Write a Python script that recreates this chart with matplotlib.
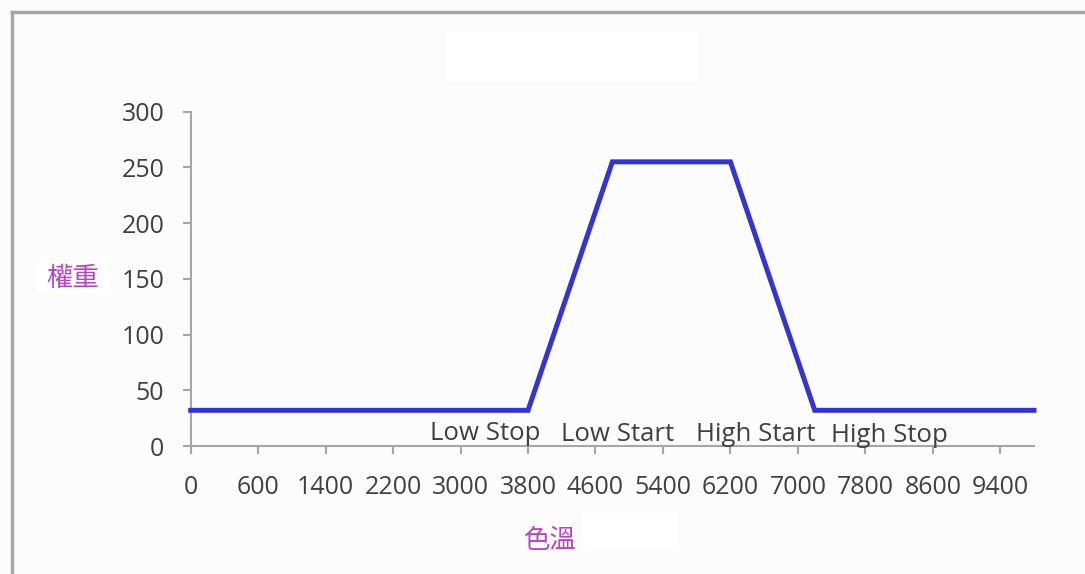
import numpy as np
import matplotlib
matplotlib.use("Agg")
import matplotlib.pyplot as plt
from matplotlib.patches import Rectangle

# ---- data ----
tick_labels = ["0", "600", "1400", "2200", "3000", "3800", "4600", "5400",
               "6200", "7000", "7800", "8600", "9400"]
tick_values = [0, 600, 1400, 2200, 3000, 3800, 4600, 5400, 6200, 7000, 7800, 8600, 9400]
temp = [0, 3800, 4800, 6200, 7200, 9800]
weight = [32, 32, 255, 255, 32, 32]
marker_names = ["Low Stop", "Low Start", "High Start", "High Stop"]
y_ticks = [0, 50, 100, 150, 200, 250, 300]

W, H = 1085, 574
fig = plt.figure(figsize=(W / 100, H / 100), dpi=100)
fig.patch.set_facecolor("#fcfcfc")

def px(x, y, w, h):
    return [x / W, 1 - (y + h) / H, w / W, h / H]

# outer frame (left/top border of the chart area)
fig.add_artist(plt.Line2D([11.5 / W, 11.5 / W], [0, 1 - 11.5 / H], color="#a6a6a6", lw=2.5))
fig.add_artist(plt.Line2D([11.5 / W, 1], [1 - 11.5 / H, 1 - 11.5 / H], color="#a6a6a6", lw=2.5))

# white placeholder boxes
for (x, y, w, h) in [(447, 32, 250, 49), (583, 513, 94, 35), (38, 262, 72, 31)]:
    fig.add_artist(Rectangle((x / W, 1 - (y + h) / H), w / W, h / H,
                             transform=fig.transFigure, facecolor="white",
                             edgecolor="none", zorder=0))

# extend the tick scale linearly beyond the last label
tv = np.array(tick_values, dtype=float)
ext_vals = np.append(tv, tv[-1] + 800)
ext_pos = np.arange(len(ext_vals), dtype=float)
def to_pos(t):
    return np.interp(t, ext_vals, ext_pos)

left, right, bottom, top = 190.7, 1034, 446, 111.7
ax = fig.add_axes(px(left, top, right - left, bottom - top))
ax.set_facecolor("none")
ax.plot(to_pos(np.array(temp, dtype=float)), weight, color="#3434cf", lw=3.6,
        solid_joinstyle="miter", clip_on=False, zorder=3)

ax.set_xlim(0, to_pos(9800))
ax.set_ylim(0, 300)
ax.set_xticks(range(len(tick_labels)))
ax.set_xticklabels(tick_labels)
ax.set_yticks(y_ticks)
for s in ["top", "right"]:
    ax.spines[s].set_visible(False)
for s in ["left", "bottom"]:
    ax.spines[s].set_color("#a6a6a6")
    ax.spines[s].set_linewidth(1.5)
ax.tick_params(axis="both", colors="#a6a6a6", length=6, width=1.5,
               labelcolor="#404040", labelsize=18)
ax.tick_params(axis="x", pad=15)
ax.tick_params(axis="y", pad=13)
for lab in ax.get_xticklabels() + ax.get_yticklabels():
    lab.set_fontfamily("Open Sans")

# marker names along the x axis
name_pos = [4.37, 6.33, 8.37, 10.35]
name_base = [5.4, 4.5, 4.5, 3.4]
for n, xp, yb in zip(marker_names, name_pos, name_base):
    ax.text(xp, yb, n, ha="center", va="baseline", fontsize=18.5,
            color="#404040", family="Open Sans", zorder=4)

cjk = ["Noto Sans CJK TC", "DejaVu Sans"]
fig.text(73 / W, 1 - 278 / H, "權重", ha="center", va="center", fontsize=19,
         color="#b445c4", family=cjk)
fig.text(550 / W, 1 - 540 / H, "色溫", ha="center", va="center", fontsize=19,
         color="#b445c4", family=cjk)

fig.savefig("out.png", dpi=100, facecolor=fig.get_facecolor())
